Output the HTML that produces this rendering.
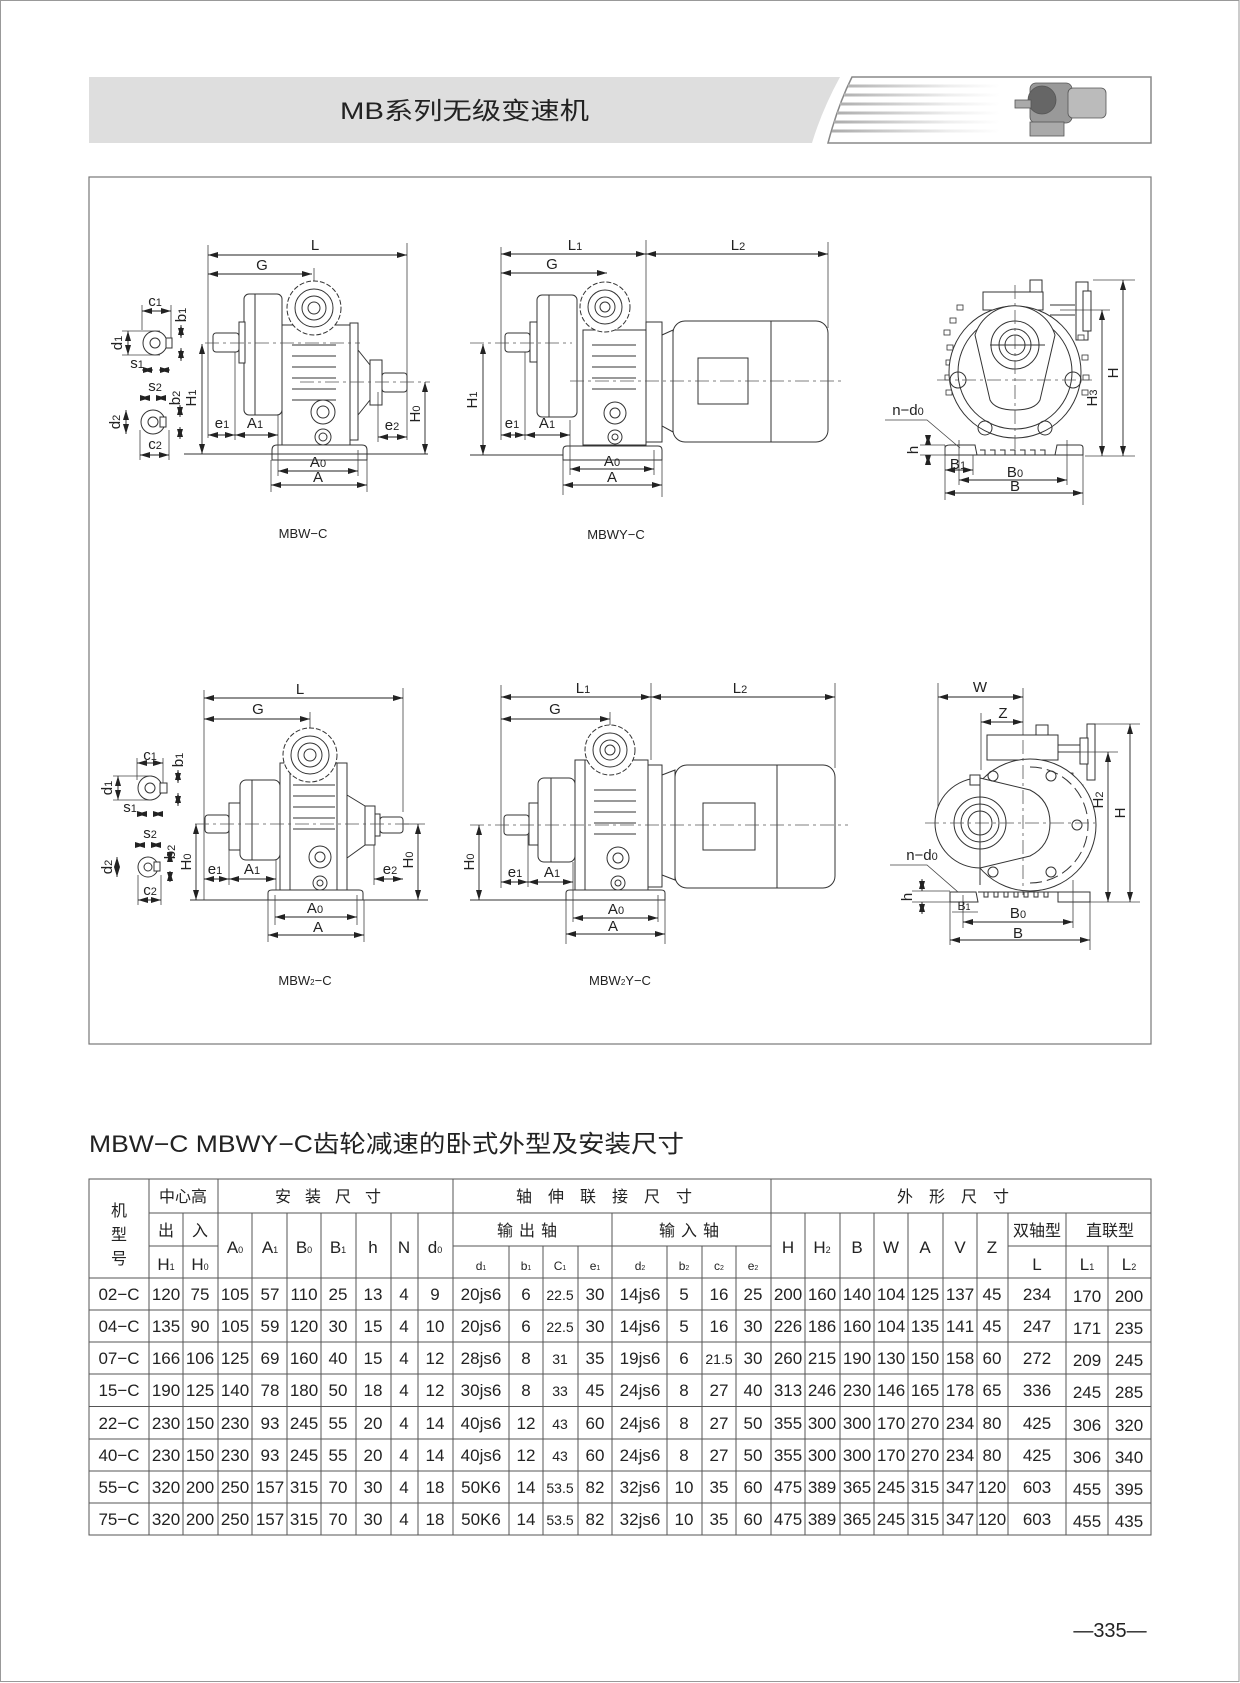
<!DOCTYPE html>
<html><head><meta charset="utf-8"><style>
html,body{margin:0;padding:0;background:#fff}
svg{display:block}
.l{stroke:#333;fill:none;stroke-width:1}
.f{stroke:#333;fill:#fff;stroke-width:1}
.c{stroke:#555;fill:none;stroke-width:0.8;stroke-dasharray:14 4 3 4}
.d{stroke:#222;stroke-width:0.9;fill:none;marker-start:url(#a);marker-end:url(#a)}
.e{stroke:#444;stroke-width:0.8;fill:none}
text{font-family:"Liberation Sans","Noto Sans CJK SC",sans-serif;fill:#222}
.lb{font-size:15px;text-anchor:middle}
.tb{font-size:17px;text-anchor:middle}
.hd{font-size:16px;text-anchor:middle;font-family:"Liberation Sans","Noto Sans CJK SC",sans-serif}
.sm{font-size:12px;text-anchor:middle}
</style></head><body>
<svg width="1240" height="1683" viewBox="0 0 1240 1683" xmlns="http://www.w3.org/2000/svg">
<defs>
<marker id="a" viewBox="0 0 10 6" refX="10" refY="3" markerWidth="10" markerHeight="6" markerUnits="userSpaceOnUse" orient="auto-start-reverse"><path d="M0,0L10,3L0,6z" fill="#222"/></marker>
<linearGradient id="g" gradientUnits="userSpaceOnUse" x1="830" y1="0" x2="1000" y2="0"><stop offset="0" stop-color="#aaa"/><stop offset="0.7" stop-color="#eee"/><stop offset="1" stop-color="#fff"/></linearGradient>
</defs>
<rect x="0.5" y="0.5" width="1238.5" height="1681" fill="none" stroke="#999"/>
<!-- header -->
<path d="M89,77 L840,77 Q822,110 812,143 L89,143 Z" fill="#dedede"/>
<text x="340" y="119" font-size="24" textLength="249" lengthAdjust="spacingAndGlyphs">MB系列无级变速机</text>
<path d="M852,77 L1151,77 L1151,143 L828,143 Q838,105 852,77 Z" fill="#fff" stroke="#888" stroke-width="1.5"/>
<g stroke="url(#g)" stroke-width="3">
<line x1="848" y1="86" x2="1000" y2="86"/><line x1="844" y1="95" x2="1000" y2="95"/><line x1="840" y1="104" x2="1000" y2="104"/><line x1="837" y1="113" x2="1000" y2="113"/><line x1="834" y1="122" x2="1000" y2="122"/><line x1="832" y1="131" x2="1000" y2="131"/>
</g>
<g fill="#999" stroke="#555" stroke-width="0.8">
<rect x="1030" y="83" width="42" height="40" rx="6"/><rect x="1068" y="88" width="38" height="30" rx="5" fill="#bbb"/>
<circle cx="1042" cy="100" r="14" fill="#666"/><rect x="1030" y="122" width="34" height="14" fill="#aaa"/><rect x="1015" y="100" width="16" height="8" fill="#aaa"/>
</g>
<!-- frame -->
<rect x="89" y="177" width="1062" height="867" fill="none" stroke="#777" stroke-width="1.2"/>

<!-- ===== Drawing 1 MBW-C ===== -->
<g>
<line class="e" x1="208" y1="245" x2="208" y2="438"/><line class="e" x1="407" y1="243" x2="407" y2="440"/>
<line class="d" x1="208" y1="255" x2="407" y2="255"/><text class="lb" x="315" y="250">L</text>
<line class="d" x1="208" y1="274" x2="312" y2="274"/><text class="lb" x="262" y="270">G</text>
<line class="e" x1="314" y1="268" x2="314" y2="340"/>
<rect class="f" x="244" y="294" width="38" height="121" rx="5"/>
<line class="l" x1="255" y1="294" x2="255" y2="415"/>
<rect class="f" x="239" y="322" width="6" height="41"/>
<rect class="f" x="213" y="333" width="26" height="19" rx="3"/>
<rect class="f" x="282" y="325" width="68" height="120"/>
<g class="l"><path d="M292,345 h44 M292,356 h44 M292,367 h44 M292,378 h44 M292,389 h44 M292,400 h44"/></g>
<circle class="f" cx="314" cy="308" r="27" stroke-dasharray="5 2"/>
<circle class="l" cx="314" cy="308" r="19"/><circle class="l" cx="314" cy="308" r="12"/><circle class="l" cx="314" cy="308" r="6"/>
<rect class="f" x="350" y="323" width="8" height="117"/>
<path class="l" d="M358,350 L370,365 L370,400 L358,415"/>
<rect class="f" x="370" y="360" width="12" height="45"/>
<rect class="f" x="382" y="373" width="25" height="19" rx="3"/>
<circle class="l" cx="323" cy="412" r="12"/><circle class="l" cx="323" cy="412" r="6"/>
<circle class="l" cx="323" cy="437" r="8"/><circle class="l" cx="323" cy="437" r="4"/>
<line class="c" x1="205" y1="343" x2="360" y2="343"/><line class="c" x1="300" y1="382" x2="430" y2="382"/>
<path class="f" d="M272,460 L272,450 Q272,445 277,445 L362,445 Q367,445 367,450 L367,460 Z"/>
<line class="l" x1="184" y1="454" x2="428" y2="454"/>
<line class="e" x1="278" y1="415" x2="278" y2="476"/><line class="e" x1="358" y1="450" x2="358" y2="476"/>
<line class="e" x1="271" y1="460" x2="271" y2="492"/><line class="e" x1="367" y1="460" x2="367" y2="492"/>
<line class="d" x1="278" y1="471" x2="358" y2="471"/><text class="lb" x="318" y="467">A<tspan font-size="11">0</tspan></text>
<line class="d" x1="271" y1="485" x2="367" y2="485"/><text class="lb" x="318" y="482">A</text>
<line class="d" x1="202" y1="344" x2="202" y2="454"/><text class="lb" transform="translate(196,398) rotate(-90)">H<tspan font-size="11">1</tspan></text>
<line class="d" x1="425" y1="382" x2="425" y2="454"/><text class="lb" transform="translate(420,414) rotate(-90)">H<tspan font-size="11">0</tspan></text>
<line class="e" x1="235" y1="352" x2="235" y2="440"/>
<line class="d" x1="208" y1="435" x2="235" y2="435"/><text class="lb" x="222" y="428">e<tspan font-size="11">1</tspan></text>
<line class="d" x1="235" y1="435" x2="278" y2="435"/><text class="lb" x="255" y="428">A<tspan font-size="11">1</tspan></text>
<line class="e" x1="378" y1="392" x2="378" y2="442"/>
<line class="d" x1="378" y1="437" x2="407" y2="437"/><text class="lb" x="392" y="430">e<tspan font-size="11">2</tspan></text>
<!-- detail 1 -->
<circle class="l" cx="155" cy="343" r="12"/><circle class="l" cx="155" cy="343" r="5"/><rect class="f" x="166" y="338" width="6" height="10"/>
<line class="e" x1="142" y1="305" x2="142" y2="330"/><line class="e" x1="171" y1="305" x2="171" y2="338"/>
<line class="d" x1="142" y1="311" x2="171" y2="311"/><text class="lb" x="155" y="306">c<tspan font-size="11">1</tspan></text>
<line class="d" x1="181" y1="325" x2="181" y2="338"/><line class="d" x1="181" y1="361" x2="181" y2="348"/><text class="lb" transform="translate(186,315) rotate(-90)">b<tspan font-size="11">1</tspan></text>
<line class="d" x1="128" y1="331" x2="128" y2="355"/><text class="lb" transform="translate(122,343) rotate(-90)">d<tspan font-size="11">1</tspan></text>
<line class="e" x1="122" y1="331" x2="160" y2="331"/><line class="e" x1="122" y1="355" x2="160" y2="355"/>
<line class="d" x1="142" y1="370" x2="153" y2="370"/><line class="d" x1="170" y1="370" x2="159" y2="370"/><text class="lb" x="137" y="368">s<tspan font-size="11">1</tspan></text>
<circle class="l" cx="153" cy="422" r="12"/><circle class="l" cx="153" cy="422" r="5"/><rect class="f" x="160" y="417" width="6" height="10"/>
<line class="d" x1="140" y1="398" x2="150" y2="398"/><line class="d" x1="166" y1="398" x2="156" y2="398"/><text class="lb" x="155" y="391">s<tspan font-size="11">2</tspan></text>
<line class="d" x1="180" y1="405" x2="180" y2="417"/><line class="d" x1="180" y1="439" x2="180" y2="427"/><text class="lb" transform="translate(180,398) rotate(-90)">b<tspan font-size="11">2</tspan></text>
<line class="d" x1="126" y1="410" x2="126" y2="434"/><text class="lb" transform="translate(120,422) rotate(-90)">d<tspan font-size="11">2</tspan></text>
<line class="e" x1="140" y1="430" x2="140" y2="460"/><line class="e" x1="169" y1="430" x2="169" y2="460"/>
<line class="d" x1="140" y1="455" x2="169" y2="455"/><text class="lb" x="155" y="449">c<tspan font-size="11">2</tspan></text>
<text x="303" y="538" font-size="13" text-anchor="middle">MBW−C</text>
</g>

<!-- ===== Drawing 2 MBWY-C ===== -->
<g>
<line class="e" x1="501" y1="247" x2="501" y2="440"/><line class="e" x1="646" y1="240" x2="646" y2="322"/><line class="e" x1="828" y1="242" x2="828" y2="328"/>
<line class="d" x1="501" y1="254" x2="646" y2="254"/><text class="lb" x="575" y="250">L<tspan font-size="11">1</tspan></text>
<line class="d" x1="646" y1="254" x2="828" y2="254"/><text class="lb" x="738" y="250">L<tspan font-size="11">2</tspan></text>
<line class="d" x1="501" y1="273" x2="607" y2="273"/><text class="lb" x="552" y="269">G</text>
<rect class="f" x="537" y="295" width="40" height="122" rx="5"/><line class="l" x1="549" y1="295" x2="549" y2="417"/>
<rect class="f" x="530" y="322" width="7" height="40"/>
<rect class="f" x="505" y="333" width="25" height="19" rx="3"/>
<rect class="f" x="583" y="330" width="63" height="115"/>
<g class="l"><path d="M592,345 h44 M592,356 h44 M592,367 h44 M592,378 h44 M592,389 h44"/></g>
<circle class="f" cx="605" cy="307" r="25" stroke-dasharray="5 2"/>
<circle class="l" cx="605" cy="307" r="17"/><circle class="l" cx="605" cy="307" r="10"/><circle class="l" cx="605" cy="307" r="5"/>
<rect class="f" x="646" y="322" width="16" height="120"/>
<path class="f" d="M662,335 L673,330 L673,432 L662,426 Z"/>
<rect class="f" x="673" y="321" width="155" height="121" rx="12"/>
<line class="l" x1="771" y1="321" x2="771" y2="442"/>
<rect class="l" x="698" y="358" width="50" height="46"/>
<line class="c" x1="470" y1="343" x2="572" y2="343"/><line class="c" x1="570" y1="381" x2="842" y2="381"/>
<circle class="l" cx="615" cy="413" r="11"/><circle class="l" cx="615" cy="413" r="5"/>
<circle class="l" cx="615" cy="437" r="7"/><circle class="l" cx="615" cy="437" r="3"/>
<path class="f" d="M563,460 L563,450 Q563,446 567,446 L658,446 Q662,446 662,450 L662,460 Z"/>
<line class="l" x1="470" y1="455" x2="563" y2="455"/>
<line class="d" x1="483" y1="344" x2="483" y2="455"/><text class="lb" transform="translate(477,400) rotate(-90)">H<tspan font-size="11">1</tspan></text>
<line class="e" x1="525" y1="352" x2="525" y2="440"/><line class="e" x1="570" y1="420" x2="570" y2="475"/><line class="e" x1="654" y1="450" x2="654" y2="475"/>
<line class="d" x1="501" y1="435" x2="525" y2="435"/><text class="lb" x="512" y="428">e<tspan font-size="11">1</tspan></text>
<line class="d" x1="525" y1="435" x2="570" y2="435"/><text class="lb" x="547" y="428">A<tspan font-size="11">1</tspan></text>
<line class="e" x1="563" y1="460" x2="563" y2="495"/><line class="e" x1="662" y1="460" x2="662" y2="497"/>
<line class="d" x1="570" y1="469" x2="654" y2="469"/><text class="lb" x="612" y="466">A<tspan font-size="11">0</tspan></text>
<line class="d" x1="563" y1="485" x2="662" y2="485"/><text class="lb" x="612" y="482">A</text>
<text x="616" y="539" font-size="13" text-anchor="middle">MBWY−C</text>
</g>

<!-- ===== Drawing 3 right top ===== -->
<g>
<rect class="f" x="983" y="292" width="60" height="18"/>
<rect class="f" x="1030" y="280" width="12" height="12"/>
<path class="l" d="M1050,305 h25 M1050,315 h25"/>
<rect class="f" x="1076" y="282" width="12" height="58"/><rect class="f" x="1083" y="291" width="8" height="40"/>
<g fill="#fff" stroke="#333" stroke-width="0.8">
<rect x="944" y="330" width="6" height="5"/><rect x="947" y="345" width="6" height="5"/><rect x="946" y="360" width="6" height="5"/><rect x="945" y="375" width="6" height="5"/><rect x="946" y="390" width="6" height="5"/><rect x="950" y="318" width="6" height="5"/><rect x="957" y="305" width="6" height="5"/><rect x="1078" y="335" width="6" height="5"/><rect x="1082" y="355" width="6" height="5"/><rect x="1083" y="375" width="6" height="5"/><rect x="1082" y="390" width="6" height="5"/>
</g>
<circle class="f" cx="1015" cy="372" r="66"/>
<circle class="l" cx="1015" cy="372" r="57"/>
<path class="f" d="M975,335 A42,42 0 0 1 1055,335 L1040,400 Q1035,410 1015,410 Q995,410 990,400 Z"/>
<circle class="l" cx="1015" cy="345" r="24"/><circle class="l" cx="1015" cy="345" r="16"/><circle class="l" cx="1015" cy="345" r="10"/>
<circle class="l" cx="958" cy="380" r="8"/><circle class="l" cx="1073" cy="380" r="8"/>
<circle class="l" cx="985" cy="428" r="7"/><circle class="l" cx="1045" cy="428" r="7"/>
<line class="c" x1="937" y1="380" x2="1092" y2="380"/><line class="c" x1="1015" y1="285" x2="1015" y2="455"/>
<line class="l" x1="990" y1="345" x2="1045" y2="345"/>
<path class="f" d="M945,455 L945,448 Q945,445 950,445 L975,445 L977,455 Z"/>
<path class="f" d="M1055,455 L1057,445 L1080,445 Q1083,445 1083,448 L1083,455 Z"/>
<g class="l"><path d="M980,450 h5 v5 M990,450 h5 v5 M1000,450 h5 v5 M1010,450 h5 v5 M1020,450 h5 v5 M1030,450 h5 v5 M1040,450 h5 v5"/></g>
<line class="l" x1="977" y1="455" x2="1055" y2="455"/>
<line class="e" x1="1093" y1="280" x2="1135" y2="280"/><line class="e" x1="1060" y1="310" x2="1110" y2="310"/><line class="e" x1="1085" y1="456" x2="1135" y2="456"/>
<line class="d" x1="1123" y1="280" x2="1123" y2="456"/><text class="lb" transform="translate(1118,373) rotate(-90)">H</text>
<line class="d" x1="1102" y1="310" x2="1102" y2="456"/><text class="lb" transform="translate(1097,398) rotate(-90)">H<tspan font-size="11">3</tspan></text>
<line class="e" x1="945" y1="445" x2="945" y2="500"/><line class="e" x1="1083" y1="455" x2="1083" y2="505"/>
<line class="e" x1="959" y1="440" x2="959" y2="485"/><line class="e" x1="1067" y1="440" x2="1067" y2="485"/><line class="e" x1="973" y1="455" x2="973" y2="475"/>
<line class="d" x1="945" y1="470" x2="973" y2="470"/><text class="lb" x="958" y="469">B<tspan font-size="11">1</tspan></text>
<line class="d" x1="959" y1="480" x2="1067" y2="480"/><text class="lb" x="1015" y="477">B<tspan font-size="11">0</tspan></text>
<line class="d" x1="945" y1="493" x2="1083" y2="493"/><text class="lb" x="1015" y="491">B</text>
<text class="lb" x="908" y="415">n−d<tspan font-size="11">0</tspan></text>
<path class="e" d="M885,420 L927,420 L960,448"/>
<line class="e" x1="920" y1="445" x2="945" y2="445"/><line class="e" x1="920" y1="455" x2="945" y2="455"/>
<line class="d" x1="928" y1="435" x2="928" y2="445"/><line class="d" x1="928" y1="465" x2="928" y2="455"/>
<text class="lb" transform="translate(918,450) rotate(-90)">h</text>
</g>

<!-- ===== Drawing 4 MBW2-C ===== -->
<g>
<line class="e" x1="204" y1="690" x2="204" y2="900"/><line class="e" x1="403" y1="688" x2="403" y2="812"/>
<line class="d" x1="204" y1="698" x2="403" y2="698"/><text class="lb" x="300" y="694">L</text>
<line class="d" x1="204" y1="719" x2="310" y2="719"/><text class="lb" x="258" y="714">G</text>
<line class="e" x1="310" y1="712" x2="310" y2="790"/>
<rect class="f" x="240" y="780" width="40" height="80" rx="6"/><line class="l" x1="252" y1="780" x2="252" y2="860"/>
<rect class="f" x="229" y="803" width="11" height="47"/>
<rect class="f" x="205" y="815" width="24" height="18" rx="3"/>
<rect class="f" x="280" y="763" width="67" height="127"/>
<line class="l" x1="290" y1="763" x2="290" y2="890"/><line class="l" x1="337" y1="763" x2="337" y2="890"/>
<g class="l"><path d="M293,785 h42 M293,796 h42 M293,807 h42 M293,818 h42 M293,829 h42"/></g>
<circle class="f" cx="310" cy="755" r="27" stroke-dasharray="5 2"/>
<circle class="l" cx="310" cy="755" r="19"/><circle class="l" cx="310" cy="755" r="12"/><circle class="l" cx="310" cy="755" r="6"/>
<path class="l" d="M347,795 L365,806 L365,845 L347,858"/>
<rect class="f" x="365" y="806" width="10" height="39"/>
<rect class="f" x="375" y="814" width="5" height="22"/>
<rect class="f" x="380" y="817" width="23" height="16" rx="3"/>
<line class="c" x1="195" y1="824" x2="412" y2="824"/>
<circle class="l" cx="320" cy="857" r="11"/><circle class="l" cx="320" cy="857" r="5"/>
<circle class="l" cx="320" cy="883" r="7"/><circle class="l" cx="320" cy="883" r="3"/>
<path class="f" d="M268,900 L268,893 Q268,890 272,890 L359,890 Q363,890 363,893 L363,900 Z"/>
<line class="l" x1="190" y1="900" x2="268" y2="900"/><line class="l" x1="363" y1="900" x2="428" y2="900"/>
<line class="d" x1="196" y1="824" x2="196" y2="900"/><text class="lb" transform="translate(191,862) rotate(-90)">H<tspan font-size="11">0</tspan></text>
<line class="e" x1="404" y1="824" x2="425" y2="824"/>
<line class="d" x1="418" y1="824" x2="418" y2="900"/><text class="lb" transform="translate(413,860) rotate(-90)">H<tspan font-size="11">0</tspan></text>
<line class="e" x1="229" y1="850" x2="229" y2="885"/><line class="e" x1="276" y1="860" x2="276" y2="890"/><line class="e" x1="374" y1="845" x2="374" y2="885"/>
<line class="d" x1="204" y1="879" x2="229" y2="879"/><text class="lb" x="215" y="874">e<tspan font-size="11">1</tspan></text>
<line class="d" x1="229" y1="879" x2="276" y2="879"/><text class="lb" x="252" y="874">A<tspan font-size="11">1</tspan></text>
<line class="d" x1="374" y1="879" x2="403" y2="879"/><text class="lb" x="390" y="874">e<tspan font-size="11">2</tspan></text>
<line class="e" x1="275" y1="895" x2="275" y2="925"/><line class="e" x1="357" y1="895" x2="357" y2="925"/>
<line class="e" x1="268" y1="900" x2="268" y2="942"/><line class="e" x1="364" y1="900" x2="364" y2="942"/>
<line class="d" x1="275" y1="917" x2="357" y2="917"/><text class="lb" x="315" y="913">A<tspan font-size="11">0</tspan></text>
<line class="d" x1="268" y1="935" x2="364" y2="935"/><text class="lb" x="318" y="932">A</text>
<circle class="l" cx="150" cy="788" r="12"/><circle class="l" cx="150" cy="788" r="5"/><rect class="f" x="160" y="783" width="7" height="10"/>
<line class="e" x1="137" y1="758" x2="137" y2="780"/><line class="e" x1="163" y1="758" x2="163" y2="783"/>
<line class="d" x1="137" y1="763" x2="163" y2="763"/><text class="lb" x="150" y="760">c<tspan font-size="11">1</tspan></text>
<line class="d" x1="178" y1="770" x2="178" y2="783"/><line class="d" x1="178" y1="806" x2="178" y2="793"/><text class="lb" transform="translate(183,760) rotate(-90)">b<tspan font-size="11">1</tspan></text>
<line class="d" x1="118" y1="776" x2="118" y2="800"/><text class="lb" transform="translate(112,788) rotate(-90)">d<tspan font-size="11">1</tspan></text>
<line class="e" x1="113" y1="776" x2="152" y2="776"/><line class="e" x1="113" y1="800" x2="152" y2="800"/>
<line class="d" x1="137" y1="814" x2="147" y2="814"/><line class="d" x1="163" y1="814" x2="153" y2="814"/><text class="lb" x="130" y="812">s<tspan font-size="11">1</tspan></text>
<circle class="l" cx="148" cy="867" r="10"/><circle class="l" cx="148" cy="867" r="4"/><rect class="f" x="154" y="862" width="6" height="9"/>
<line class="d" x1="135" y1="845" x2="145" y2="845"/><line class="d" x1="161" y1="845" x2="151" y2="845"/><text class="lb" x="150" y="838">s<tspan font-size="11">2</tspan></text>
<line class="d" x1="170" y1="852" x2="170" y2="862"/><line class="d" x1="170" y1="882" x2="170" y2="871"/><text class="lb" transform="translate(175,852) rotate(-90)">b<tspan font-size="11">2</tspan></text>
<line class="d" x1="117" y1="857" x2="117" y2="877"/><text class="lb" transform="translate(112,867) rotate(-90)">d<tspan font-size="11">2</tspan></text>
<line class="e" x1="138" y1="875" x2="138" y2="905"/><line class="e" x1="161" y1="875" x2="161" y2="905"/>
<line class="d" x1="138" y1="900" x2="161" y2="900"/><text class="lb" x="150" y="895">c<tspan font-size="11">2</tspan></text>
<text x="305" y="985" font-size="13" text-anchor="middle">MBW<tspan font-size="8">2</tspan>−C</text>
</g>

<!-- ===== Drawing 5 MBW2Y-C ===== -->
<g>
<line class="e" x1="501" y1="685" x2="501" y2="888"/><line class="e" x1="651" y1="683" x2="651" y2="760"/><line class="e" x1="835" y1="683" x2="835" y2="768"/>
<line class="d" x1="501" y1="697" x2="651" y2="697"/><text class="lb" x="583" y="693">L<tspan font-size="11">1</tspan></text>
<line class="d" x1="651" y1="697" x2="835" y2="697"/><text class="lb" x="740" y="693">L<tspan font-size="11">2</tspan></text>
<line class="d" x1="501" y1="719" x2="610" y2="719"/><text class="lb" x="555" y="714">G</text>
<line class="e" x1="610" y1="712" x2="610" y2="790"/>
<rect class="f" x="538" y="778" width="37" height="84" rx="6"/><line class="l" x1="551" y1="778" x2="551" y2="862"/>
<rect class="f" x="529" y="803" width="9" height="42"/>
<rect class="f" x="504" y="815" width="25" height="20" rx="3"/>
<rect class="f" x="575" y="760" width="73" height="130"/><line class="l" x1="585" y1="760" x2="585" y2="890"/>
<g class="l"><path d="M594,790 h42 M594,801 h42 M594,812 h42 M594,823 h42 M594,834 h42"/></g>
<circle class="f" cx="610" cy="750" r="25" stroke-dasharray="5 2"/>
<circle class="l" cx="610" cy="750" r="17"/><circle class="l" cx="610" cy="750" r="10"/><circle class="l" cx="610" cy="750" r="5"/>
<rect class="f" x="648" y="765" width="14" height="122"/>
<path class="f" d="M662,775 L675,770 L675,880 L662,875 Z"/>
<rect class="f" x="675" y="765" width="160" height="123" rx="12"/>
<line class="l" x1="777" y1="765" x2="777" y2="888"/>
<rect class="l" x="703" y="803" width="52" height="47"/>
<line class="c" x1="470" y1="825" x2="848" y2="825"/>
<circle class="l" cx="618" cy="858" r="11"/><circle class="l" cx="618" cy="858" r="5"/>
<circle class="l" cx="618" cy="883" r="7"/><circle class="l" cx="618" cy="883" r="3"/>
<path class="f" d="M566,900 L566,893 Q566,890 570,890 L661,890 Q665,890 665,893 L665,900 Z"/>
<line class="l" x1="470" y1="900" x2="566" y2="900"/>
<line class="d" x1="479" y1="825" x2="479" y2="900"/><text class="lb" transform="translate(474,862) rotate(-90)">H<tspan font-size="11">0</tspan></text>
<line class="e" x1="528" y1="835" x2="528" y2="887"/><line class="e" x1="573" y1="862" x2="573" y2="922"/><line class="e" x1="658" y1="895" x2="658" y2="922"/>
<line class="d" x1="501" y1="882" x2="528" y2="882"/><text class="lb" x="515" y="877">e<tspan font-size="11">1</tspan></text>
<line class="d" x1="528" y1="882" x2="573" y2="882"/><text class="lb" x="552" y="877">A<tspan font-size="11">1</tspan></text>
<line class="e" x1="566" y1="900" x2="566" y2="944"/><line class="e" x1="665" y1="900" x2="665" y2="944"/>
<line class="d" x1="573" y1="918" x2="658" y2="918"/><text class="lb" x="616" y="914">A<tspan font-size="11">0</tspan></text>
<line class="d" x1="566" y1="934" x2="665" y2="934"/><text class="lb" x="613" y="931">A</text>
<text x="620" y="985" font-size="13" text-anchor="middle">MBW<tspan font-size="8">2</tspan>Y−C</text>
</g>

<!-- ===== Drawing 6 right bottom ===== -->
<g>
<line class="e" x1="938" y1="683" x2="938" y2="815"/><line class="e" x1="1023" y1="688" x2="1023" y2="890"/><line class="e" x1="981" y1="713" x2="981" y2="770"/>
<line class="d" x1="938" y1="697" x2="1023" y2="697"/><text class="lb" x="980" y="692">W</text>
<line class="d" x1="981" y1="722" x2="1023" y2="722"/><text class="lb" x="1003" y="718">Z</text>
<rect class="f" x="987" y="735" width="71" height="25"/>
<rect class="f" x="1036" y="725" width="12" height="10"/>
<path class="l" d="M1058,745 h28 M1058,752 h28"/>
<rect class="f" x="1087" y="724" width="8" height="56"/><rect class="f" x="1080" y="738" width="8" height="26"/>
<g fill="#fff" stroke="#333" stroke-width="0.8">
<rect x="1068" y="773" width="5" height="5"/><rect x="1078" y="785" width="5" height="5"/><rect x="1084" y="800" width="5" height="5"/><rect x="1088" y="818" width="5" height="5"/><rect x="1087" y="835" width="5" height="5"/><rect x="1083" y="852" width="5" height="5"/>
</g>
<circle class="f" cx="1030" cy="825" r="66"/>
<path class="l" d="M1030,767 A58,58 0 0 1 1030,883" stroke-dasharray="12 5"/>
<path class="f" d="M980,778 L1030,790 Q1050,800 1050,823 Q1050,846 1030,856 L980,868 A45,45 0 0 1 980,778 Z"/>
<circle class="l" cx="980" cy="823" r="26"/><circle class="l" cx="980" cy="823" r="19"/><circle class="l" cx="980" cy="823" r="12"/>
<circle class="l" cx="993" cy="776" r="5"/><circle class="l" cx="1051" cy="776" r="5"/><circle class="l" cx="1077" cy="825" r="5"/>
<circle class="l" cx="993" cy="872" r="5"/><circle class="l" cx="1051" cy="872" r="5"/>
<line class="c" x1="925" y1="823" x2="1095" y2="823"/><line class="c" x1="1023" y1="740" x2="1023" y2="895"/><line class="l" x1="980" y1="780" x2="980" y2="885"/>
<rect class="f" x="970" y="775" width="10" height="10"/>
<path class="f" d="M950,902 L950,892 L976,892 L978,902 Z"/>
<path class="f" d="M1058,902 L1058,892 L1090,892 L1090,902 Z"/>
<g class="l"><path d="M984,892 v5 h4 v-5 M994,892 v5 h4 v-5 M1004,892 v5 h4 v-5 M1014,892 v5 h4 v-5 M1024,892 v5 h4 v-5 M1034,892 v5 h4 v-5 M1044,892 v5 h4 v-5"/></g>
<line class="l" x1="978" y1="892" x2="1058" y2="892"/>
<line class="e" x1="1095" y1="724" x2="1140" y2="724"/><line class="e" x1="1060" y1="752" x2="1118" y2="752"/><line class="e" x1="1090" y1="902" x2="1140" y2="902"/>
<line class="d" x1="1130" y1="724" x2="1130" y2="902"/><text class="lb" transform="translate(1125,813) rotate(-90)">H</text>
<line class="d" x1="1108" y1="752" x2="1108" y2="902"/><text class="lb" transform="translate(1103,800) rotate(-90)">H<tspan font-size="11">2</tspan></text>
<line class="e" x1="950" y1="902" x2="950" y2="945"/><line class="e" x1="1090" y1="902" x2="1090" y2="950"/>
<line class="e" x1="963" y1="895" x2="963" y2="928"/><line class="e" x1="1073" y1="880" x2="1073" y2="928"/>
<line class="e" x1="952" y1="912" x2="978" y2="912"/><text x="964" y="910" font-size="12" text-anchor="middle">B<tspan font-size="9">1</tspan></text>
<line class="d" x1="963" y1="922" x2="1073" y2="922"/><text class="lb" x="1018" y="918">B<tspan font-size="11">0</tspan></text>
<line class="d" x1="950" y1="940" x2="1090" y2="940"/><text class="lb" x="1018" y="938">B</text>
<text class="lb" x="922" y="860">n−d<tspan font-size="11">0</tspan></text>
<path class="e" d="M890,865 L927,865 L958,892"/>
<line class="e" x1="912" y1="891" x2="950" y2="891"/><line class="e" x1="912" y1="902" x2="950" y2="902"/>
<line class="d" x1="922" y1="879" x2="922" y2="891"/><line class="d" x1="922" y1="914" x2="922" y2="902"/>
<text class="lb" transform="translate(912,897) rotate(-90)">h</text>
</g>

<!-- ===== Table ===== -->
<text x="89" y="1152" font-size="24" textLength="595" lengthAdjust="spacingAndGlyphs">MBW−C MBWY−C齿轮减速的卧式外型及安装尺寸</text>
<g stroke="#555" stroke-width="1" fill="none">
<rect x="89" y="1179" width="1062" height="356"/>
<line x1="149" y1="1213" x2="1151" y2="1213"/>
<line x1="149" y1="1246" x2="218" y2="1246"/><line x1="453" y1="1246" x2="771" y2="1246"/><line x1="1008" y1="1246" x2="1151" y2="1246"/>
<line x1="89" y1="1278" x2="1151" y2="1278"/>
<line x1="89" y1="1310" x2="1151" y2="1310"/><line x1="89" y1="1342" x2="1151" y2="1342"/><line x1="89" y1="1374" x2="1151" y2="1374"/><line x1="89" y1="1406.5" x2="1151" y2="1406.5"/><line x1="89" y1="1439" x2="1151" y2="1439"/><line x1="89" y1="1471" x2="1151" y2="1471"/><line x1="89" y1="1503" x2="1151" y2="1503"/>
<line x1="149" y1="1179" x2="149" y2="1535"/><line x1="218" y1="1179" x2="218" y2="1535"/><line x1="453" y1="1179" x2="453" y2="1535"/><line x1="771" y1="1179" x2="771" y2="1535"/>
<line x1="183" y1="1213" x2="183" y2="1535"/>
<line x1="252" y1="1213" x2="252" y2="1535"/><line x1="287" y1="1213" x2="287" y2="1535"/><line x1="321" y1="1213" x2="321" y2="1535"/><line x1="356" y1="1213" x2="356" y2="1535"/><line x1="391" y1="1213" x2="391" y2="1535"/><line x1="418" y1="1213" x2="418" y2="1535"/>
<line x1="509" y1="1246" x2="509" y2="1535"/><line x1="543" y1="1246" x2="543" y2="1535"/><line x1="578" y1="1246" x2="578" y2="1535"/><line x1="612" y1="1213" x2="612" y2="1535"/>
<line x1="667" y1="1246" x2="667" y2="1535"/><line x1="702" y1="1246" x2="702" y2="1535"/><line x1="736" y1="1246" x2="736" y2="1535"/>
<line x1="805" y1="1213" x2="805" y2="1535"/><line x1="840" y1="1213" x2="840" y2="1535"/><line x1="874" y1="1213" x2="874" y2="1535"/><line x1="908" y1="1213" x2="908" y2="1535"/><line x1="943" y1="1213" x2="943" y2="1535"/><line x1="977" y1="1213" x2="977" y2="1535"/><line x1="1008" y1="1213" x2="1008" y2="1535"/><line x1="1066" y1="1213" x2="1066" y2="1535"/><line x1="1108" y1="1246" x2="1108" y2="1535"/>
</g>
<g class="hd">
<text x="119" y="1216">机</text><text x="119" y="1240">型</text><text x="119" y="1264">号</text>
<text x="183" y="1202">中心高</text>
<text x="166" y="1236">出</text><text x="200" y="1236">入</text>
<text x="335" y="1202" letter-spacing="14">安装尺寸</text>
<text x="612" y="1202" letter-spacing="16">轴伸联接尺寸</text>
<text x="530" y="1236" letter-spacing="6">输出轴</text>
<text x="692" y="1236" letter-spacing="6">输入轴</text>
<text x="961" y="1202" letter-spacing="16">外形尺寸</text>
<text x="1037" y="1236">双轴型</text><text x="1110" y="1236">直联型</text>
</g>
<g class="tb">
<text x="166" y="1270">H<tspan font-size="9">1</tspan></text><text x="200" y="1270">H<tspan font-size="9">0</tspan></text>
<text x="235" y="1253">A<tspan font-size="9">0</tspan></text><text x="270" y="1253">A<tspan font-size="9">1</tspan></text><text x="304" y="1253">B<tspan font-size="9">0</tspan></text><text x="338" y="1253">B<tspan font-size="9">1</tspan></text><text x="373" y="1253">h</text><text x="404" y="1253">N</text><text x="435" y="1253">d<tspan font-size="9">0</tspan></text>
<text x="788" y="1253">H</text><text x="822" y="1253">H<tspan font-size="9">2</tspan></text><text x="857" y="1253">B</text><text x="891" y="1253">W</text><text x="925" y="1253">A</text><text x="960" y="1253">V</text><text x="992" y="1253">Z</text>
<text x="1037" y="1270">L</text><text x="1087" y="1270">L<tspan font-size="9">1</tspan></text><text x="1129" y="1270">L<tspan font-size="9">2</tspan></text>
</g>
<g class="sm">
<text x="481" y="1270">d<tspan font-size="7">1</tspan></text><text x="526" y="1270">b<tspan font-size="7">1</tspan></text><text x="560" y="1270">C<tspan font-size="7">1</tspan></text><text x="595" y="1270">e<tspan font-size="7">1</tspan></text>
<text x="640" y="1270">d<tspan font-size="7">2</tspan></text><text x="684" y="1270">b<tspan font-size="7">2</tspan></text><text x="719" y="1270">c<tspan font-size="7">2</tspan></text><text x="753" y="1270">e<tspan font-size="7">2</tspan></text>
</g>
<g class="tb" font-size="17">
<g transform="translate(0,1300)">
<text x="119">02−C</text><text x="166">120</text><text x="200">75</text><text x="235">105</text><text x="270">57</text><text x="304">110</text><text x="338">25</text><text x="373">13</text><text x="404">4</text><text x="435">9</text><text x="481">20js6</text><text x="526">6</text><text x="560" font-size="14">22.5</text><text x="595">30</text><text x="640">14js6</text><text x="684">5</text><text x="719">16</text><text x="753">25</text><text x="788">200</text><text x="822">160</text><text x="857">140</text><text x="891">104</text><text x="925">125</text><text x="960">137</text><text x="992">45</text><text x="1037">234</text><text x="1087" dy="2">170</text><text x="1129" dy="2">200</text>
</g>
<g transform="translate(0,1332)">
<text x="119">04−C</text><text x="166">135</text><text x="200">90</text><text x="235">105</text><text x="270">59</text><text x="304">120</text><text x="338">30</text><text x="373">15</text><text x="404">4</text><text x="435">10</text><text x="481">20js6</text><text x="526">6</text><text x="560" font-size="14">22.5</text><text x="595">30</text><text x="640">14js6</text><text x="684">5</text><text x="719">16</text><text x="753">30</text><text x="788">226</text><text x="822">186</text><text x="857">160</text><text x="891">104</text><text x="925">135</text><text x="960">141</text><text x="992">45</text><text x="1037">247</text><text x="1087" dy="2">171</text><text x="1129" dy="2">235</text>
</g>
<g transform="translate(0,1364)">
<text x="119">07−C</text><text x="166">166</text><text x="200">106</text><text x="235">125</text><text x="270">69</text><text x="304">160</text><text x="338">40</text><text x="373">15</text><text x="404">4</text><text x="435">12</text><text x="481">28js6</text><text x="526">8</text><text x="560" font-size="14">31</text><text x="595">35</text><text x="640">19js6</text><text x="684">6</text><text x="719" font-size="14">21.5</text><text x="753">30</text><text x="788">260</text><text x="822">215</text><text x="857">190</text><text x="891">130</text><text x="925">150</text><text x="960">158</text><text x="992">60</text><text x="1037">272</text><text x="1087" dy="2">209</text><text x="1129" dy="2">245</text>
</g>
<g transform="translate(0,1396)">
<text x="119">15−C</text><text x="166">190</text><text x="200">125</text><text x="235">140</text><text x="270">78</text><text x="304">180</text><text x="338">50</text><text x="373">18</text><text x="404">4</text><text x="435">12</text><text x="481">30js6</text><text x="526">8</text><text x="560" font-size="14">33</text><text x="595">45</text><text x="640">24js6</text><text x="684">8</text><text x="719">27</text><text x="753">40</text><text x="788">313</text><text x="822">246</text><text x="857">230</text><text x="891">146</text><text x="925">165</text><text x="960">178</text><text x="992">65</text><text x="1037">336</text><text x="1087" dy="2">245</text><text x="1129" dy="2">285</text>
</g>
<g transform="translate(0,1429)">
<text x="119">22−C</text><text x="166">230</text><text x="200">150</text><text x="235">230</text><text x="270">93</text><text x="304">245</text><text x="338">55</text><text x="373">20</text><text x="404">4</text><text x="435">14</text><text x="481">40js6</text><text x="526">12</text><text x="560" font-size="14">43</text><text x="595">60</text><text x="640">24js6</text><text x="684">8</text><text x="719">27</text><text x="753">50</text><text x="788">355</text><text x="822">300</text><text x="857">300</text><text x="891">170</text><text x="925">270</text><text x="960">234</text><text x="992">80</text><text x="1037">425</text><text x="1087" dy="2">306</text><text x="1129" dy="2">320</text>
</g>
<g transform="translate(0,1461)">
<text x="119">40−C</text><text x="166">230</text><text x="200">150</text><text x="235">230</text><text x="270">93</text><text x="304">245</text><text x="338">55</text><text x="373">20</text><text x="404">4</text><text x="435">14</text><text x="481">40js6</text><text x="526">12</text><text x="560" font-size="14">43</text><text x="595">60</text><text x="640">24js6</text><text x="684">8</text><text x="719">27</text><text x="753">50</text><text x="788">355</text><text x="822">300</text><text x="857">300</text><text x="891">170</text><text x="925">270</text><text x="960">234</text><text x="992">80</text><text x="1037">425</text><text x="1087" dy="2">306</text><text x="1129" dy="2">340</text>
</g>
<g transform="translate(0,1493)">
<text x="119">55−C</text><text x="166">320</text><text x="200">200</text><text x="235">250</text><text x="270">157</text><text x="304">315</text><text x="338">70</text><text x="373">30</text><text x="404">4</text><text x="435">18</text><text x="481">50K6</text><text x="526">14</text><text x="560" font-size="14">53.5</text><text x="595">82</text><text x="640">32js6</text><text x="684">10</text><text x="719">35</text><text x="753">60</text><text x="788">475</text><text x="822">389</text><text x="857">365</text><text x="891">245</text><text x="925">315</text><text x="960">347</text><text x="992">120</text><text x="1037">603</text><text x="1087" dy="2">455</text><text x="1129" dy="2">395</text>
</g>
<g transform="translate(0,1525)">
<text x="119">75−C</text><text x="166">320</text><text x="200">200</text><text x="235">250</text><text x="270">157</text><text x="304">315</text><text x="338">70</text><text x="373">30</text><text x="404">4</text><text x="435">18</text><text x="481">50K6</text><text x="526">14</text><text x="560" font-size="14">53.5</text><text x="595">82</text><text x="640">32js6</text><text x="684">10</text><text x="719">35</text><text x="753">60</text><text x="788">475</text><text x="822">389</text><text x="857">365</text><text x="891">245</text><text x="925">315</text><text x="960">347</text><text x="992">120</text><text x="1037">603</text><text x="1087" dy="2">455</text><text x="1129" dy="2">435</text>
</g>
</g>
<!-- page number -->
<text x="1110" y="1637" font-size="20" text-anchor="middle">—335—</text>
</svg>
</body></html>
